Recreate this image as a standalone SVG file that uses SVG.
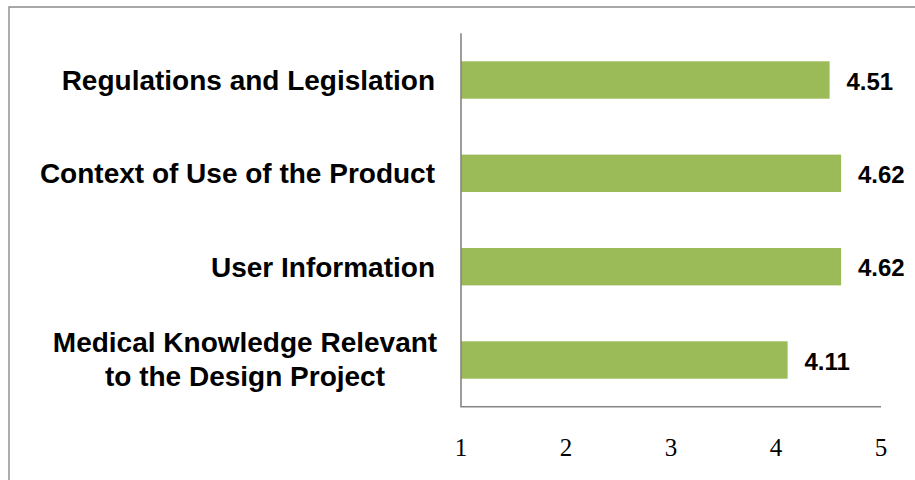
<svg xmlns="http://www.w3.org/2000/svg" width="915" height="480" viewBox="0 0 915 480">
<style>
.cat{font-family:"Liberation Sans",Arial,sans-serif;font-weight:bold;font-size:28px;fill:#000}
.val{font-family:"Liberation Sans",Arial,sans-serif;font-weight:bold;font-size:24px;fill:#000}
.tick{font-family:"Liberation Serif","Times New Roman",serif;font-size:25px;fill:#000;text-anchor:middle}
.bar{fill:#9BBB59}
.axis{stroke:#868686;stroke-width:1.6;fill:none}
</style>
<rect x="0" y="0" width="915" height="480" fill="#fff"/>
<path d="M9,481 V7 H916" stroke="#8c8c8c" stroke-width="1.4" fill="none"/>
<g id="bar-regulations">
<rect class="bar" x="461" y="61.3" width="368.6" height="37.4"/>
<text class="cat" x="435" y="90" text-anchor="end">Regulations and Legislation</text>
<text class="val" x="846.5" y="89.5">4.51</text>
</g>
<g id="bar-context">
<rect class="bar" x="461" y="154.6" width="380.1" height="37.4"/>
<text class="cat" x="435" y="183.3" text-anchor="end">Context of Use of the Product</text>
<text class="val" x="858" y="182.8">4.62</text>
</g>
<g id="bar-user">
<rect class="bar" x="461" y="248" width="380.1" height="37.4"/>
<text class="cat" x="435" y="276.7" text-anchor="end">User Information</text>
<text class="val" x="858" y="276.2">4.62</text>
</g>
<g id="bar-medical">
<rect class="bar" x="461" y="341.3" width="326.6" height="37.4"/>
<text class="cat" x="245" y="352" text-anchor="middle">Medical Knowledge Relevant</text>
<text class="cat" x="245" y="385.7" text-anchor="middle">to the Design Project</text>
<text class="val" x="804.5" y="369.5">4.11</text>
</g>
<g id="axes">
<path class="axis" d="M461,33.3 V406.7 H881"/>
<text class="tick" x="461" y="456">1</text>
<text class="tick" x="566" y="456">2</text>
<text class="tick" x="671" y="456">3</text>
<text class="tick" x="776" y="456">4</text>
<text class="tick" x="881" y="456">5</text>
</g>
</svg>
